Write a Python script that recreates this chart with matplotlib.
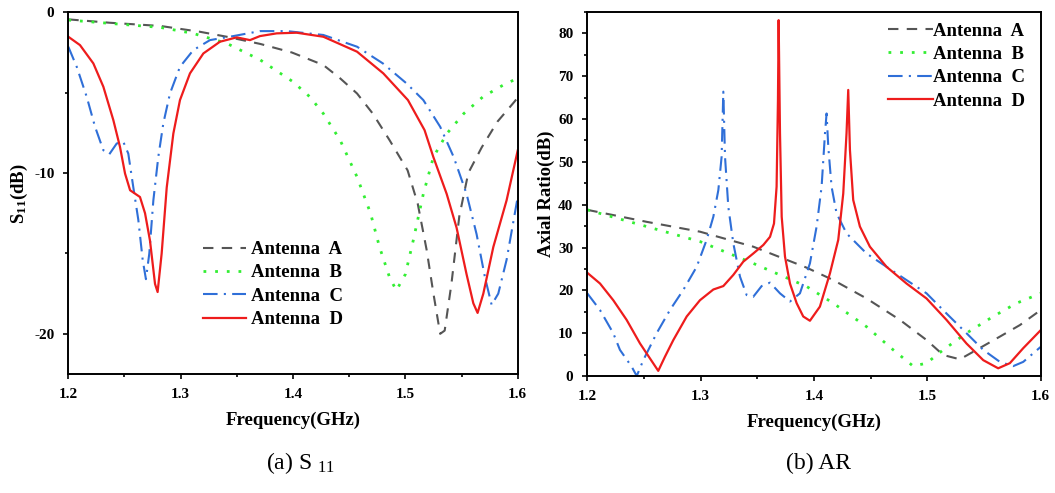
import matplotlib
matplotlib.use("Agg")
import matplotlib.pyplot as plt
from matplotlib.ticker import MultipleLocator

plt.rcParams['font.family'] = ['Liberation Serif', 'DejaVu Serif']
plt.rcParams['mathtext.fontset'] = 'custom'
plt.rcParams['mathtext.rm'] = 'Liberation Serif'
plt.rcParams['mathtext.it'] = 'Liberation Serif'
plt.rcParams['mathtext.bf'] = 'Liberation Serif:bold'
plt.rcParams['axes.unicode_minus'] = False

labels = ["Antenna  A", "Antenna  B", "Antenna  C", "Antenna  D"]

# --- (a) S11 (dB) ---
s11_f_a = [1.2, 1.237, 1.282, 1.317, 1.341, 1.371, 1.399, 1.427, 1.442, 1.457, 1.471, 1.486,
           1.502, 1.511, 1.519, 1.525, 1.531, 1.535, 1.541, 1.548, 1.556, 1.568, 1.582,
           1.597, 1.6]
s11_a = [-0.44, -0.65, -0.85, -1.21, -1.52, -1.97, -2.5, -3.28, -4.11, -5.05, -6.3, -7.96,
         -9.83, -11.9, -14.8, -17.5, -20.0, -19.8, -16.9, -12.7, -10.0, -8.4, -6.8,
         -5.57, -5.3]

s11_f_b = [1.2, 1.237, 1.282, 1.311, 1.341, 1.371, 1.4, 1.415, 1.427, 1.442, 1.457, 1.469,
           1.477, 1.486, 1.492, 1.5, 1.507, 1.516, 1.525, 1.537, 1.552, 1.569, 1.587, 1.6]
s11_b = [-0.48, -0.69, -0.94, -1.31, -1.93, -2.97, -4.32, -5.26, -6.3, -7.96, -10.24, -12.5,
         -14.6, -16.5, -17.3, -16.3, -14.2, -11.3, -9.0, -7.54, -6.3, -5.26, -4.53, -4.1]

s11_f_c = [1.2, 1.2075, 1.2164, 1.2238, 1.2312, 1.2365, 1.2431, 1.249, 1.2534, 1.2579,
           1.2623, 1.2662, 1.2691, 1.2721, 1.2757, 1.2801, 1.2846, 1.2905, 1.2994, 1.3113,
           1.3261, 1.3469, 1.3706, 1.3944, 1.427, 1.457, 1.48, 1.501, 1.516, 1.531, 1.543,
           1.5545, 1.5634, 1.5709, 1.5768, 1.5827, 1.5901, 1.6]
s11_c = [-2.14, -3.39, -5.26, -7.12, -8.58, -8.83, -8.16, -8.06, -8.79, -10.9,
         -12.9, -15.4, -16.6, -15.0, -11.7, -9.0, -6.9, -5.05, -3.39, -2.35,
         -1.73, -1.48, -1.17, -1.17, -1.41, -2.14, -3.18, -4.42, -5.46, -7.12, -9.0,
         -11.3, -13.8, -16.5, -18.2, -17.5, -15.4, -11.5]

s11_f_d = [1.2, 1.2104, 1.2223, 1.2312, 1.2401, 1.246, 1.2505, 1.255, 1.2594, 1.2638,
           1.2683, 1.2727, 1.2772, 1.2795, 1.2831, 1.2876, 1.2935, 1.2994, 1.3083, 1.3202,
           1.335, 1.3499, 1.3617, 1.3706, 1.3855, 1.4033, 1.427, 1.457, 1.4804, 1.5023,
           1.5171, 1.5249, 1.5368, 1.5456, 1.5545, 1.5605, 1.5643, 1.5694, 1.5783, 1.5901, 1.6]
s11_d = [-1.52, -2.04, -3.18, -4.63, -6.71, -8.37, -10.03, -11.07, -11.28, -11.49,
         -12.5, -14.2, -16.9, -17.4, -15.0, -10.9, -7.54, -5.46, -3.8, -2.56,
         -1.83, -1.56, -1.73, -1.48, -1.31, -1.27, -1.52, -2.45, -3.8, -5.46,
         -7.33, -9.0, -11.3, -13.4, -16.3, -18.1, -18.7, -17.5, -14.6, -11.7, -8.6]

# --- (b) Axial ratio (dB) ---
ar_f_a = [1.2, 1.2524, 1.2994, 1.3464, 1.3935, 1.417, 1.4464, 1.4758, 1.4993, 1.514, 1.5287,
          1.5434, 1.564, 1.5817, 1.6]
ar_a = [38.8, 36.0, 33.7, 30.2, 25.3, 22.4, 18.1, 13.1, 8.4, 4.9, 3.9,
        6.1, 9.2, 11.9, 15.4]

ar_f_b = [1.2, 1.2524, 1.2994, 1.3464, 1.3935, 1.417, 1.4464, 1.4699, 1.4875, 1.4993, 1.514,
          1.5345, 1.5581, 1.5787, 1.6]
ar_b = [38.8, 34.9, 31.4, 26.3, 20.9, 17.0, 11.5, 6.1, 2.3, 3.0, 6.1,
        10.0, 13.9, 17.0, 19.3]

ar_f_c = [1.2, 1.2112, 1.2229, 1.2288, 1.2391, 1.2436, 1.2494, 1.2612, 1.2729, 1.2847,
          1.2965, 1.3053, 1.3112, 1.3156, 1.3185, 1.32, 1.3215, 1.3244, 1.3288, 1.3347,
          1.3406, 1.3464, 1.3538, 1.3612, 1.37, 1.3788, 1.3876, 1.3964, 1.4023, 1.4067,
          1.4097, 1.4111, 1.4126, 1.4155, 1.4199, 1.4287, 1.4464, 1.464, 1.4816, 1.4993,
          1.5169, 1.5345, 1.5493, 1.564, 1.5757, 1.5846, 1.6]
ar_c = [19.3, 15.4, 10.0, 6.1, 2.2, 0.0, 3.7, 10.0, 15.4, 20.1,
        25.5, 31.8, 37.2, 43.4, 51.2, 66.4, 51.2, 39.5, 31.0, 23.2,
        18.9, 18.5, 21.0, 21.8, 19.3, 17.4, 19.3, 26.3, 34.9, 44.2,
        56.7, 61.3, 53.5, 44.2, 38.0, 33.3, 28.6, 25.5, 22.4, 19.3,
        14.6, 10.0, 6.1, 3.3, 2.3, 3.3, 6.8]

ar_f_d = [1.2, 1.2112, 1.2229, 1.2347, 1.2465, 1.2553, 1.2626, 1.2685, 1.2759, 1.2877,
          1.2994, 1.3112, 1.32, 1.3288, 1.3376, 1.3464, 1.3553, 1.3612, 1.3647, 1.367,
          1.3682, 1.3688, 1.37, 1.3715, 1.3744, 1.3788, 1.3847, 1.3905, 1.3964, 1.4052,
          1.4141, 1.4214, 1.4258, 1.4287, 1.4302, 1.4317, 1.4346, 1.4405, 1.4493, 1.464,
          1.4816, 1.4993, 1.5169, 1.5345, 1.5493, 1.5625, 1.5728, 1.5846, 1.6]
ar_d = [24.1, 21.6, 17.7, 13.1, 7.6, 4.1, 1.2, 4.5, 8.4, 13.9,
        17.7, 20.2, 21.0, 23.6, 26.7, 28.6, 30.6, 32.5, 35.6, 44.2,
        64.4, 83.1, 56.7, 37.2, 27.9, 21.6, 17.0, 13.9, 12.9, 16.2,
        24.0, 31.8, 42.6, 56.7, 66.8, 52.8, 41.1, 34.9, 30.2, 25.5,
        21.6, 18.1, 13.1, 7.6, 3.7, 1.8, 3.0, 6.5, 10.7]

styles = [
    dict(color='#555555', linestyle=(0, (5, 4)), lw=1.5),
    dict(color='#33ee33', linestyle=(0, (1, 3.2)), lw=2.0),
    dict(color='#2f6fd8', linestyle=(0, (7, 3, 1, 3)), lw=1.5),
    dict(color='#ee1c1c', linestyle='-', lw=1.6),
]

W, H = 1055, 493
fig = plt.figure(figsize=(W / 100, H / 100), dpi=100)
ax1 = fig.add_axes([68.3 / W, 1 - 374 / H, 449.4 / W, 361.7 / H])
ax2 = fig.add_axes([587.3 / W, 1 - 376 / H, 453.4 / W, 364 / H])

s11_sets = [(s11_f_a, s11_a), (s11_f_b, s11_b), (s11_f_c, s11_c), (s11_f_d, s11_d)]
ar_sets = [(ar_f_a, ar_a), (ar_f_b, ar_b), (ar_f_c, ar_c), (ar_f_d, ar_d)]
for (f, v), st, lab in zip(s11_sets, styles, labels):
    ax1.plot(f, v, label=lab, **st)
for (f, v), st, lab in zip(ar_sets, styles, labels):
    ax2.plot(f, v, label=lab, **st)

ax1.set_xlim(1.2, 1.6)
ax1.set_ylim(-22.5, 0)
ax2.set_xlim(1.2, 1.6)
ax2.set_ylim(0, 85)

for ax in (ax1, ax2):
    ax.xaxis.set_major_locator(MultipleLocator(0.1))
    ax.xaxis.set_minor_locator(MultipleLocator(0.05))
    ax.yaxis.set_major_locator(MultipleLocator(10))
    ax.yaxis.set_minor_locator(MultipleLocator(5))
    ax.tick_params(which='both', direction='out', width=1.2, labelsize=11, pad=6.5)
    ax.tick_params(which='major', length=3.5)
    ax.tick_params(which='minor', length=2.5)
    for sp in ax.spines.values():
        sp.set_linewidth(1.4)
    for t in ax.get_xticklabels() + ax.get_yticklabels():
        t.set_fontweight('bold')
    ax.set_xlabel("Frequency(GHz)", fontsize=13.5, fontweight='bold', labelpad=8)

ax1.set_ylabel(r"S$_{\mathbf{11}}$(dB)", fontsize=13.5, fontweight='bold', labelpad=3)
ax2.set_ylabel("Axial Ratio(dB)", fontsize=13.5, fontweight='bold', labelpad=2)

leg_kw = dict(frameon=False, prop={'weight': 'bold', 'size': 13.5}, labelspacing=0.33,
              borderpad=0, borderaxespad=0, bbox_transform=fig.transFigure, loc='upper left')
ax1.legend(bbox_to_anchor=(203 / W, 1 - 241 / H), handlelength=2.3, handletextpad=0.27,
           **leg_kw)
ax2.legend(bbox_to_anchor=(888 / W, 1 - 22.5 / H), handlelength=2.4, handletextpad=0.0,
           **leg_kw)

fig.text(300 / W, 1 - 463 / H, "(a) S $_{11}$", fontsize=17, ha='center', va='center')
fig.text(818 / W, 1 - 463 / H, "(b) AR", fontsize=17, ha='center', va='center')

fig.savefig("out.png", dpi=100)
